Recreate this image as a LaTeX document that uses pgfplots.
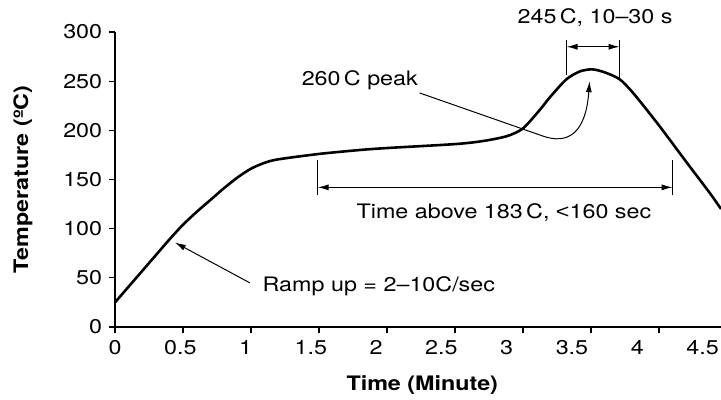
\documentclass[border=0pt]{standalone}
\usepackage{fontspec}
\setmainfont{TeX Gyre Heros}[FakeStretch=1.17]
\newfontfamily\lessfont{Liberation Sans}[FakeStretch=1.17]
\usepackage{pgfplots}
\pgfplotsset{compat=1.18}
\usetikzlibrary{arrows.meta}

\begin{document}
\fontsize{20}{24}\selectfont
\begin{tikzpicture}
\begin{axis}[
    scale only axis,
    width=606bp, height=295bp,
    xmin=0, xmax=4.456,
    ymin=0, ymax=300,
    axis x line*=bottom,
    axis y line*=left,
    axis line style={line width=1.6pt, -},
    tick style={line width=1.3pt, black},
    xtick pos=bottom, ytick pos=left,
    xtick align=outside, ytick align=outside,
    major tick length=6bp,
    xtick={0,0.5,...,4},
    xticklabels={},
    extra x ticks={0,0.48,0.96,1.44,1.92,2.4,2.88,3.36,3.84,4.32},
    extra x tick labels={0,0.5,1,1.5,2,2.5,3,3.5,4,4.5},
    extra x tick style={major tick length=0pt, xticklabel style={yshift=-7bp}},
    ytick={0,50,...,300},
    /pgf/number format/assume math mode=true,
    tick label style={font=\fontsize{20}{24}\selectfont},
    xlabel={\bfseries Time (Minute)},
    ylabel={\bfseries Temperature (ºC)},
    x label style={at={(axis description cs:0.507,-0.197)}, anchor=center},
    y label style={at={(axis description cs:-0.152,0.5)}, anchor=center, rotate=0},
    clip=false,
]
\addplot[line width=2.6pt, smooth, tension=0.45] coordinates {
    (0,25) (0.1,41) (0.2,57) (0.3,73) (0.4,89) (0.5,104) (0.6,117)
    (0.7,129) (0.8,141) (0.9,152) (1.0,161) (1.1,167) (1.2,170.5)
    (1.5,176) (1.8,180) (2.0,182) (2.5,186) (2.7,189)
    (2.88,194) (3.0,202) (3.125,221) (3.2,234) (3.32,252) (3.42,260)
    (3.51,262) (3.6,259) (3.71,252) (3.81,238) (4.0,205) (4.2,168)
    (4.375,136) (4.456,120)
};
% peak window bracket
\draw[line width=1pt] (axis cs:3.32,256) -- (axis cs:3.32,292);
\draw[line width=1pt] (axis cs:3.71,252) -- (axis cs:3.71,292);
\draw[line width=1pt, {Latex[length=11bp,width=6bp]}-{Latex[length=11bp,width=6bp]}]
    (axis cs:3.32,285) -- (axis cs:3.71,285);
\node at (axis cs:3.53,315) {245\,C, 10--30 s};
% time above 183
\draw[line width=1pt] (axis cs:1.49,134) -- (axis cs:1.49,170);
\draw[line width=1pt] (axis cs:4.10,134) -- (axis cs:4.10,170);
\draw[line width=1pt, {Latex[length=11bp,width=6bp]}-{Latex[length=11bp,width=6bp]}]
    (axis cs:1.49,142) -- (axis cs:4.10,142);
\node at (axis cs:2.86,116) {Time above 183\,C, {\lessfont\symbol{"3C}}160 sec};
% ramp
\draw[line width=1pt, -{Latex[length=11bp,width=6bp]}]
    (axis cs:0.99,45) -- (axis cs:0.44,86);
\node at (axis cs:1.94,41) {Ramp up = 2--10C/sec};
% peak
\node at (axis cs:1.80,251) {260\,C peak};
\draw[line width=1pt, -{Latex[length=11bp,width=6bp]}]
    (axis cs:2.24,238) -- (axis cs:3.15,194)
    .. controls (axis cs:3.32,186) and (axis cs:3.46,195) .. (axis cs:3.49,250);
\end{axis}
\pgfresetboundingbox
\path (-115bp,-73bp) rectangle (606bp,327bp);
\end{tikzpicture}
\end{document}
